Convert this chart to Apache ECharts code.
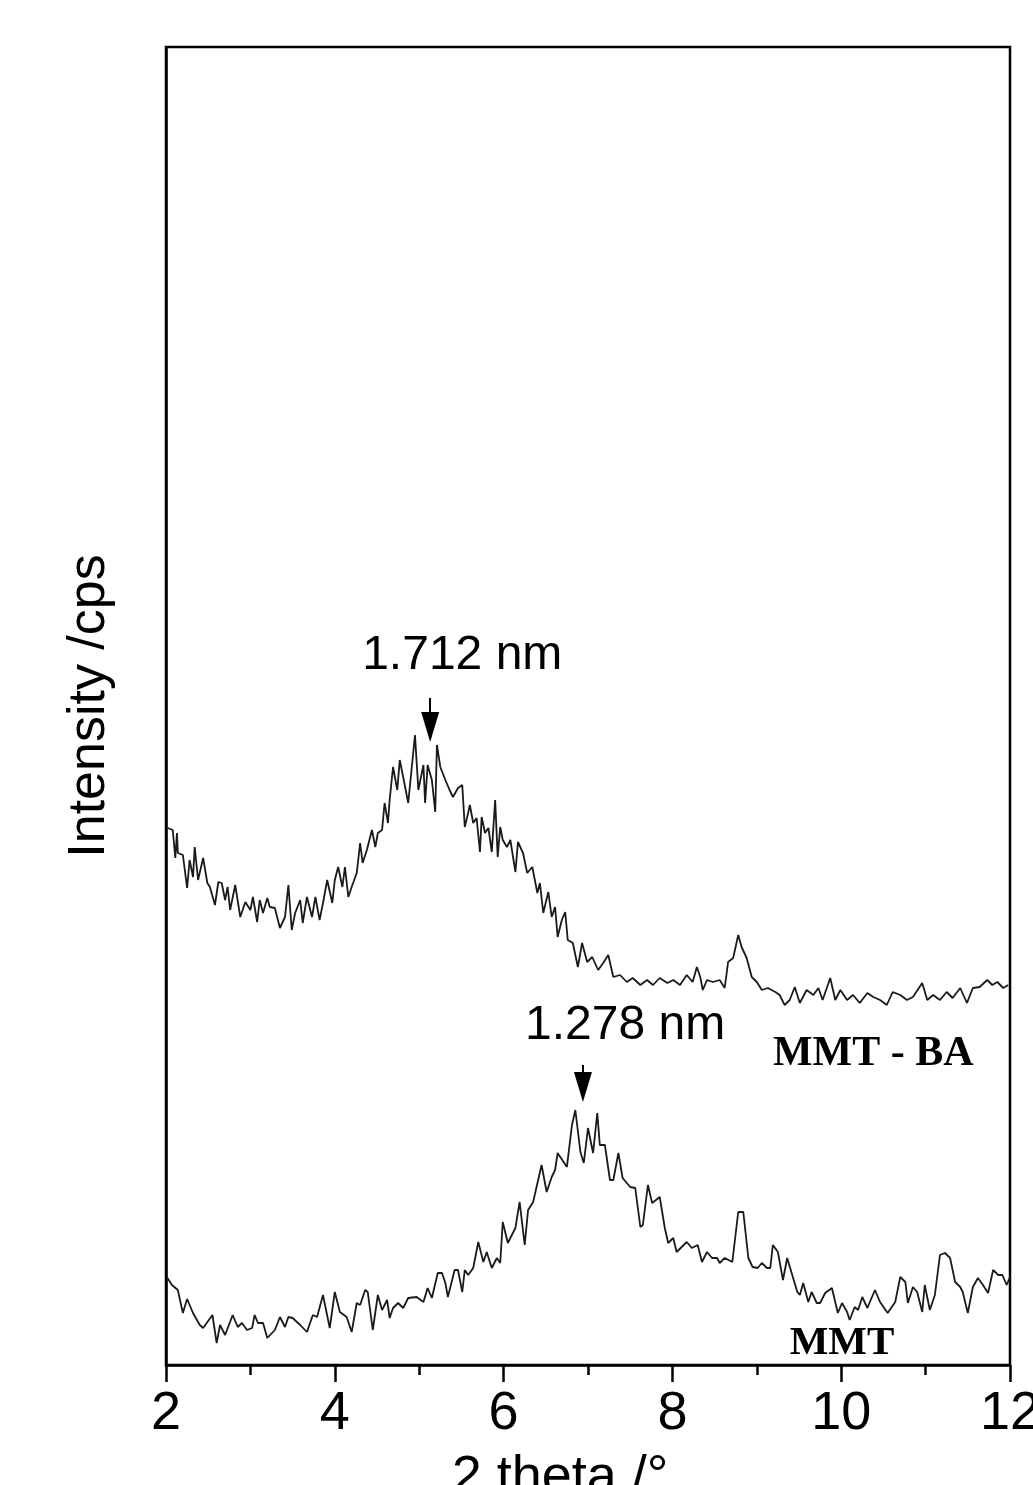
<!DOCTYPE html>
<html lang="en">
<head>
    <title>XRD MMT / MMT-BA</title>
    <meta charset="utf-8">
    <script src="https://cdn.jsdelivr.net/npm/echarts@6/dist/echarts.min.js"></script>
    <style>
        html, body { margin: 0; padding: 0; background: #fff; }
        #container { width: 1033px; height: 1485px; }
    </style>
</head>
<body>
<div id="container"></div>
<script type="text/javascript">
    // MMT - BA pattern (2 theta in degrees, intensity in arbitrary cps)
    var baTheta = [2.02,2.08,2.11,2.13,2.14,2.20,2.25,2.28,2.32,2.34,
        2.38,2.44,2.49,2.52,2.58,2.62,2.66,2.70,2.73,2.76,
        2.82,2.88,2.94,3.00,3.03,3.08,3.11,3.15,3.20,3.23,
        3.29,3.35,3.41,3.45,3.49,3.53,3.59,3.62,3.67,3.73,
        3.77,3.82,3.86,3.91,3.97,4.00,4.04,4.09,4.12,4.16,
        4.20,4.26,4.30,4.33,4.38,4.44,4.48,4.51,4.56,4.59,
        4.63,4.65,4.69,4.74,4.77,4.81,4.87,4.95,4.99,5.05,
        5.07,5.10,5.15,5.19,5.21,5.25,5.31,5.36,5.40,5.46,
        5.51,5.54,5.58,5.60,5.64,5.68,5.72,5.74,5.78,5.82,
        5.86,5.90,5.93,5.96,5.99,6.04,6.08,6.14,6.17,6.23,
        6.28,6.34,6.40,6.43,6.47,6.53,6.57,6.61,6.64,6.69,
        6.73,6.76,6.82,6.88,6.93,6.99,7.05,7.12,7.18,7.24,
        7.30,7.38,7.46,7.53,7.62,7.70,7.77,7.85,7.94,8.01,
        8.09,8.17,8.24,8.29,8.33,8.36,8.41,8.48,8.56,8.62,
        8.66,8.72,8.78,8.82,8.88,8.94,9.00,9.06,9.13,9.22,
        9.27,9.33,9.39,9.45,9.51,9.59,9.67,9.73,9.78,9.87,
        9.93,9.99,10.07,10.14,10.22,10.31,10.38,10.46,10.54,10.61,
        10.70,10.78,10.85,10.96,11.02,11.09,11.17,11.25,11.32,11.41,
        11.49,11.56,11.64,11.73,11.79,11.85,11.92,11.98];
    var baIntensity = [537,535,507,532,512,510,477,505,488,518,
        485,507,482,478,460,483,482,465,478,455,
        480,448,463,455,468,443,465,452,467,458,
        457,437,448,480,435,452,465,442,468,448,
        468,445,462,485,462,485,498,478,498,468,
        478,492,522,502,515,535,518,532,535,562,
        542,565,598,575,605,588,562,630,575,600,
        562,600,585,553,620,598,585,575,568,577,
        580,538,552,560,542,547,513,548,532,537,
        513,565,508,538,525,518,525,493,523,512,
        492,498,472,482,452,473,448,458,428,445,
        453,425,422,398,422,403,408,395,402,410,
        388,390,383,387,380,385,380,387,382,385,
        380,390,383,398,388,375,385,383,385,377,
        403,407,430,418,407,388,383,375,377,373,
        370,360,365,378,362,375,370,377,365,387,
        365,375,365,370,362,372,368,365,360,373,
        370,365,368,382,365,370,365,373,367,377,
        362,377,378,385,380,383,377,380];

    // MMT pattern
    var mmtTheta = [2.01,2.07,2.14,2.20,2.25,2.32,2.40,2.44,2.55,2.60,
        2.64,2.70,2.79,2.85,2.90,2.96,3.02,3.05,3.09,3.15,
        3.20,3.29,3.35,3.41,3.45,3.50,3.59,3.67,3.74,3.79,
        3.86,3.94,4.00,4.06,4.14,4.20,4.26,4.30,4.36,4.39,
        4.45,4.51,4.56,4.62,4.65,4.69,4.75,4.81,4.87,4.97,
        5.05,5.10,5.15,5.22,5.27,5.31,5.34,5.42,5.46,5.51,
        5.54,5.58,5.64,5.70,5.76,5.80,5.86,5.92,5.96,5.99,
        6.05,6.14,6.19,6.25,6.29,6.35,6.45,6.51,6.57,6.61,
        6.64,6.75,6.81,6.85,6.91,6.95,7.00,7.06,7.11,7.14,
        7.20,7.26,7.30,7.36,7.41,7.50,7.56,7.62,7.65,7.71,
        7.76,7.85,7.91,7.95,8.01,8.05,8.11,8.17,8.23,8.30,
        8.35,8.41,8.47,8.53,8.56,8.62,8.71,8.78,8.84,8.90,
        8.95,9.01,9.06,9.12,9.16,9.19,9.25,9.31,9.36,9.42,
        9.48,9.51,9.55,9.61,9.65,9.71,9.75,9.81,9.89,9.96,
        10.01,10.07,10.10,10.16,10.20,10.25,10.31,10.40,10.46,10.55,
        10.64,10.70,10.76,10.79,10.85,10.90,10.96,10.99,11.05,11.11,
        11.17,11.23,11.29,11.35,11.41,11.44,11.50,11.56,11.62,11.68,
        11.74,11.80,11.86,11.91,11.96,12.00];
    var mmtIntensity = [88,80,75,52,66,52,40,37,50,22,
        40,30,50,38,42,35,37,50,42,42,
        27,35,48,38,48,47,40,33,50,48,
        70,37,73,53,48,33,62,60,75,73,
        35,70,55,65,47,57,62,57,67,68,
        63,77,67,92,92,82,68,95,95,73,
        95,90,97,123,103,113,97,107,102,143,
        122,137,163,120,155,163,200,173,188,195,
        212,198,240,255,213,202,237,212,252,220,
        220,185,185,212,187,178,177,138,140,180,
        162,168,137,122,127,113,118,123,117,120,
        103,113,107,107,102,107,103,153,153,107,
        98,97,102,97,97,120,113,85,107,90,
        73,70,82,63,73,62,62,72,77,52,
        62,53,45,58,55,68,57,75,63,52,
        63,88,83,62,78,73,53,80,55,70,
        110,112,107,83,78,73,52,78,87,80,
        72,95,90,90,80,88];

    // peak markers: position of arrow, label text
    var peakTheta = [5.13, 6.94];
    var peakArrowTop = [667, 300];
    var peakArrowEnd = [638, 278];
    var peakLabels = ['1.712 nm', '1.278 nm'];
    var peakLabelPos = [[5.51, 709], [7.44, 339]];
    var sampleNames = ['MMT - BA', 'MMT'];
    var sampleNamePos = [[10.38, 311], [10.01, 22]];

    function pairs(xs, ys) {
        var out = [];
        for (var i = 0; i < Math.min(xs.length, ys.length); i++) {
            out.push([xs[i], ys[i]]);
        }
        return out;
    }

    var sans = 'Liberation Sans';
    var serif = 'Liberation Serif';

    function arrow(i) {
        return [{coord: [peakTheta[i], peakArrowTop[i]]}, {coord: [peakTheta[i], peakArrowEnd[i]]}];
    }

    var dom = document.getElementById("container");
    var myChart = echarts.init(dom, null, {renderer: 'canvas'});

    var option = {
        backgroundColor: '#fff',
        animation: false,
        grid: {
            left: 166, right: 23, top: 47, bottom: 120,
            show: true, borderColor: '#000', borderWidth: 2.5,
            containLabel: false, outerBoundsMode: 'none'
        },
        xAxis: {
            type: 'value', min: 2, max: 12, interval: 2,
            name: '2 theta /\u00b0', nameLocation: 'middle', nameGap: 86,
            nameTextStyle: {fontFamily: sans, fontSize: 54, color: '#000', padding: [0, 56, 0, 0]},
            axisLine: {show: true, onZero: false, lineStyle: {color: '#000', width: 2.5}},
            axisTick: {show: true, inside: false, length: 17, lineStyle: {color: '#000', width: 2.5}},
            minorTick: {show: true, splitNumber: 2, length: 10, lineStyle: {color: '#000', width: 2.5}},
            axisLabel: {fontFamily: sans, fontSize: 54, color: '#000', margin: 22},
            splitLine: {show: false}
        },
        yAxis: {
            type: 'value', min: 0, max: 1318,
            name: 'Intensity /cps', nameLocation: 'middle', nameGap: 50, nameRotate: 90,
            nameTextStyle: {fontFamily: sans, fontSize: 52, color: '#000'},
            axisLine: {show: true, onZero: false, lineStyle: {color: '#000', width: 2.5}},
            axisTick: {show: false},
            axisLabel: {show: false},
            splitLine: {show: false}
        },
        series: [
            {
                name: 'MMT - BA', type: 'line', data: pairs(baTheta, baIntensity),
                symbol: 'none', lineStyle: {color: '#1a1a1a', width: 1.8},
                markLine: {
                    silent: true, symbol: ['none', 'triangle'], symbolSize: [18, 30],
                    lineStyle: {color: '#000', width: 2, type: 'solid'},
                    label: {show: false},
                    data: [arrow(0), arrow(1)]
                },
                markPoint: {
                    silent: true, symbol: 'circle', symbolSize: 1,
                    itemStyle: {color: 'transparent'},
                    label: {show: true, position: 'inside', formatter: '{b}', color: '#000', fontFamily: sans, fontSize: 48},
                    data: [
                        {name: peakLabels[0], coord: peakLabelPos[0]},
                        {name: peakLabels[1], coord: peakLabelPos[1]},
                        {name: sampleNames[0], coord: sampleNamePos[0],
                            label: {fontFamily: serif, fontWeight: 'bold', fontSize: 42}},
                        {name: sampleNames[1], coord: sampleNamePos[1],
                            label: {fontFamily: serif, fontWeight: 'bold', fontSize: 41}}
                    ]
                }
            },
            {
                name: 'MMT', type: 'line', data: pairs(mmtTheta, mmtIntensity),
                symbol: 'none', lineStyle: {color: '#1a1a1a', width: 1.8}
            }
        ]
    };

    if (option && typeof option === 'object') {
        myChart.setOption(option);
    }
</script>
</body>
</html>
